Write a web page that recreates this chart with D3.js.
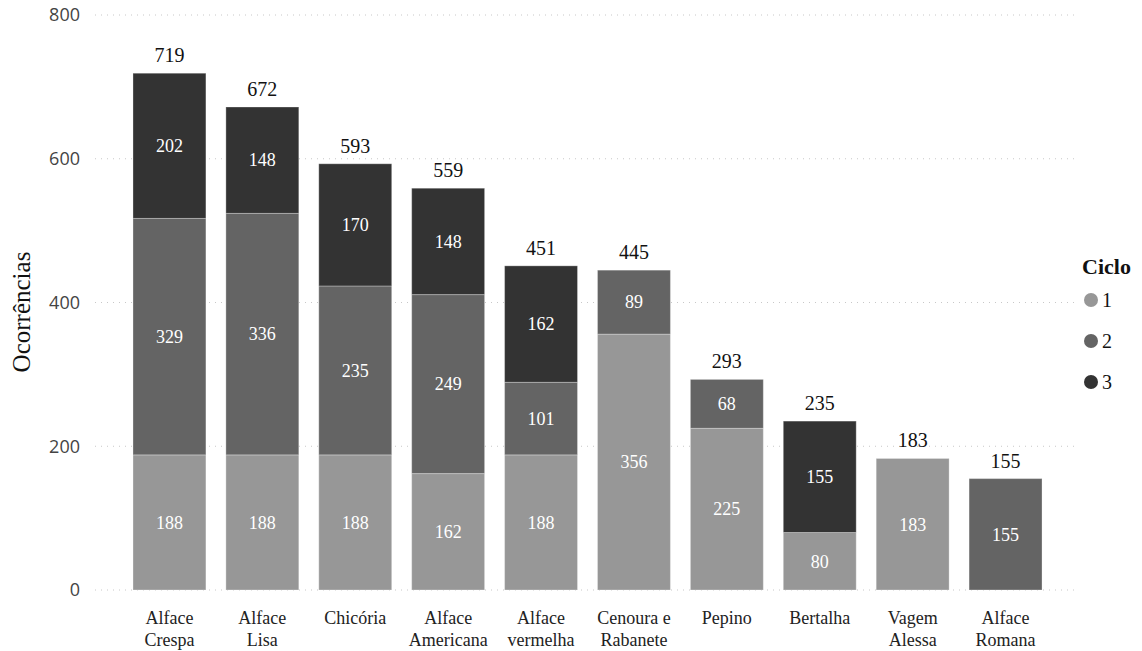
<!DOCTYPE html>
<html><head><meta charset="utf-8">
<script src="https://cdn.jsdelivr.net/npm/d3@7"></script>
<style>body{margin:0;background:#fff}</style>
</head><body><svg id="c" width="1142" height="651"></svg>
<script>
const categories = ["Alface Crespa","Alface Lisa","Chicória","Alface Americana","Alface vermelha","Cenoura e Rabanete","Pepino","Bertalha","Vagem Alessa","Alface Romana"];
const ciclo1 = [188,188,188,162,188,356,225,80,183,0];
const ciclo2 = [329,336,235,249,101,89,68,0,0,155];
const ciclo3 = [202,148,170,148,162,0,0,155,0,0];
const seriesNames = ["1","2","3"];
const yTicks = [0,200,400,600,800];
const colors = ["#979797","#646464","#333333"];

const svg = d3.select("#c");
const x = d3.scaleBand().domain(categories).range([123,1052]).paddingInner(0.215).paddingOuter(0.1075);
const y = d3.scaleLinear().domain([0,800]).range([590,15]);

const rows = categories.map((c,i)=>({cat:c,"1":ciclo1[i],"2":ciclo2[i],"3":ciclo3[i]}));
const stack = d3.stack().keys(seriesNames)(rows);

// grid
svg.append("g").selectAll("line").data(yTicks).join("line")
  .attr("x1",95).attr("x2",1078).attr("y1",d=>y(d)).attr("y2",d=>y(d))
  .attr("stroke","#c8c8c8").attr("stroke-width",1).attr("stroke-dasharray","1,5");
svg.append("g").selectAll("text").data(yTicks).join("text")
  .attr("x",80).attr("y",d=>y(d)).attr("dy","0.35em").attr("text-anchor","end")
  .attr("font-family","'Open Sans','DejaVu Sans',sans-serif").attr("font-size",18).attr("fill","#444")
  .text(d=>d);

// bars
stack.forEach((s,k)=>{
  const g = svg.append("g");
  g.selectAll("rect").data(s.filter(d=>d[1]-d[0]>0)).join("rect")
    .attr("x",d=>x(d.data.cat)).attr("width",x.bandwidth())
    .attr("y",d=>y(d[1])).attr("height",d=>y(d[0])-y(d[1]))
    .attr("fill",colors[k]).attr("stroke","#fff").attr("stroke-opacity",0.3).attr("stroke-width",1);
  g.selectAll("text").data(s.filter(d=>d[1]-d[0]>0)).join("text")
    .attr("x",d=>x(d.data.cat)+x.bandwidth()/2).attr("y",d=>(y(d[0])+y(d[1]))/2).attr("dy","0.35em")
    .attr("text-anchor","middle").attr("font-family","'Liberation Serif',serif").attr("font-size",18)
    .attr("fill","#fff").text(d=>d[1]-d[0]);
});

// totals
svg.append("g").selectAll("text").data(rows).join("text")
  .attr("x",d=>x(d.cat)+x.bandwidth()/2).attr("y",d=>y(d["1"]+d["2"]+d["3"])-11)
  .attr("text-anchor","middle").attr("font-family","'Liberation Serif',serif").attr("font-size",20)
  .attr("fill","#111").text(d=>d["1"]+d["2"]+d["3"]);

// x labels
const xl = svg.append("g").selectAll("text").data(categories).join("text")
  .attr("x",d=>x(d)+x.bandwidth()/2).attr("y",624).attr("text-anchor","middle")
  .attr("font-family","'Liberation Serif',serif").attr("font-size",18).attr("fill","#222");
xl.each(function(d){
  const words = d.split(" ");
  let lines;
  if (words.length===1) lines=[d];
  else if (words.length===2) lines=words;
  else lines=[words.slice(0,2).join(" "), words.slice(2).join(" ")];
  lines.forEach((l,i)=>d3.select(this).append("tspan").attr("x",x(d)+x.bandwidth()/2).attr("dy",i?22:0).text(l));
});

// y title
svg.append("text").attr("transform","translate(30,312) rotate(-90)").attr("text-anchor","middle")
  .attr("font-family","'Liberation Serif',serif").attr("font-size",25).attr("fill","#111").text("Ocorrências");

// legend
svg.append("text").attr("x",1082).attr("y",274).attr("font-family","'Liberation Serif',serif")
  .attr("font-size",22).attr("font-weight","bold").attr("fill","#111").text("Ciclo");
const lg = svg.append("g").selectAll("g").data(seriesNames).join("g")
  .attr("transform",(d,i)=>`translate(1091,${300+i*41})`);
lg.append("circle").attr("r",7).attr("fill",(d,i)=>colors[i]);
lg.append("text").attr("x",11).attr("dy","0.35em").attr("font-family","'Liberation Serif',serif")
  .attr("font-size",20).attr("fill","#111").text(d=>d);
</script></body></html>
